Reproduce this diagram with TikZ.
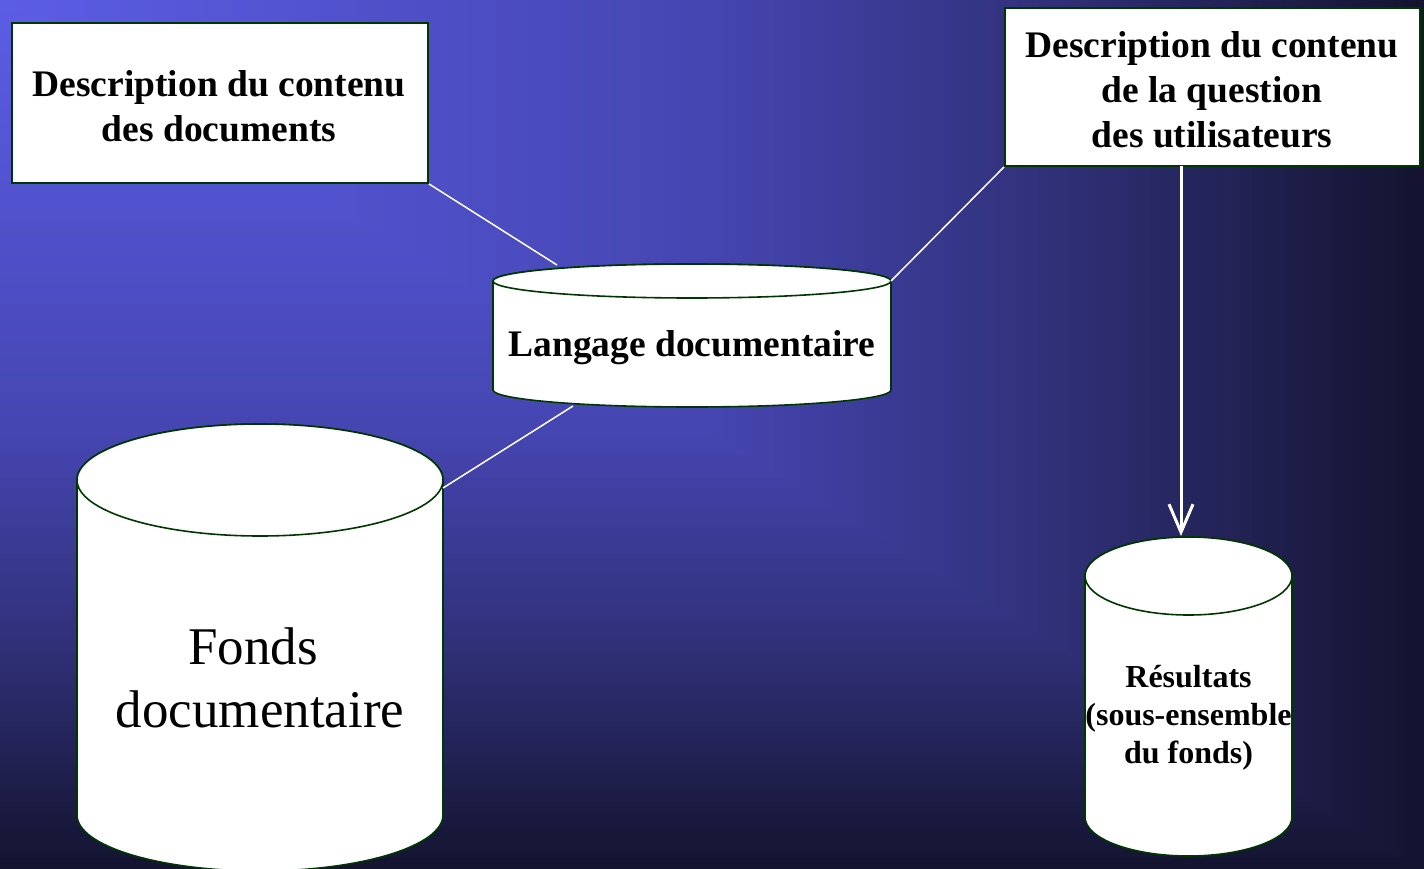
\documentclass[tikz,border=0pt]{standalone}
\usepackage{fontspec}
\setmainfont{Liberation Serif}
\usetikzlibrary{arrows.meta}
\definecolor{edge}{RGB}{0,55,0}
\tikzset{
  box/.style={draw=edge, line width=1.8pt, fill=white, align=center, inner sep=0pt,
              font=\bfseries\fontsize{37.5}{44.5}\selectfont},
  cyl/.style={draw=edge, line width=1.6pt, fill=white},
  link/.style={draw=white, line width=1.5pt},
  flow/.style={draw=white, line width=3pt, -{Straight Barb[length=28pt,width=24pt,line width=3pt]}},
  lbl/.style={align=center, inner sep=0pt}
}
\begin{document}
\begin{tikzpicture}[x=1pt,y=-1pt]
\useasboundingbox (0,0) rectangle (1424,869);
% background: rectangular gradient from the top-left corner
\foreach \k in {0,...,139}{
  \pgfmathsetmacro\s{1-\k/140}
  \pgfmathtruncatemacro\rr{\s<0.5 ? 92-44*\s : (\s<0.75 ? 70-88*(\s-0.5) : 48-112*(\s-0.75))}
  \pgfmathtruncatemacro\gg{\s<0.5 ? 94-48*\s : (\s<0.75 ? 70-88*(\s-0.5) : 48-112*(\s-0.75))}
  \pgfmathtruncatemacro\bb{\s<0.5 ? 230-104*\s : (\s<0.75 ? 178-232*(\s-0.5) : 120-288*(\s-0.75))}
  \definecolor{bgc}{RGB}{\rr,\gg,\bb}
  \fill[bgc] (0,0) rectangle (1424*\s+0.5,869*\s+0.5);
}
% boxes
\node[box, minimum width=416pt, minimum height=160pt] (b1) at (220,103) {};
\node[lbl, font=\bfseries\fontsize{37.5}{44.5}\selectfont] (b1t) at (219,106)
  {Description du contenu\\des documents};
\node[box, minimum width=415pt, minimum height=158pt] (b2) at (1212.5,87) {};
\node[lbl, font=\bfseries\fontsize{37.5}{45}\selectfont] (b2t) at (1212,90)
  {Description du contenu\\de la question\\des utilisateurs};
% cylinder: Langage documentaire
\path[cyl] (493,281) -- (493,390) arc[start angle=180,end angle=360,x radius=199pt,y radius=17pt]
  -- (891,281) arc[start angle=0,end angle=180,x radius=199pt,y radius=17pt] -- cycle;
\draw[cyl] (692,281) ellipse[x radius=199pt,y radius=17pt];
\node[lbl, font=\bfseries\fontsize{37.5}{44.5}\selectfont] (lang) at (692,348) {Langage documentaire};
% cylinder: Fonds documentaire
\path[cyl] (77,480) -- (77,815) arc[start angle=180,end angle=360,x radius=183pt,y radius=56pt]
  -- (443,480) arc[start angle=0,end angle=180,x radius=183pt,y radius=56pt] -- cycle;
\draw[cyl] (260,480) ellipse[x radius=183pt,y radius=56pt];
\node[lbl, font=\fontsize{53}{63}\selectfont] (fonds) at (260,678) {Fonds\hspace*{14pt}\\documentaire};
% cylinder: Resultats
\path[cyl] (1085,576) -- (1085,817) arc[start angle=180,end angle=360,x radius=103.5pt,y radius=39pt]
  -- (1292,576) arc[start angle=0,end angle=180,x radius=103.5pt,y radius=39pt] -- cycle;
\draw[cyl] (1188.5,576) ellipse[x radius=103.5pt,y radius=39pt];
\node[lbl, font=\bfseries\fontsize{32}{38}\selectfont] (res) at (1188.5,718)
  {Résultats\\(sous-ensemble\\du fonds)};
% connector end points
\coordinate (langtop) at (557,265);
\coordinate (langeast) at (891,281);
\coordinate (langbot) at (573,406);
\coordinate (fondsne) at (443,488);
\coordinate (qfoot) at (1181,166);
\coordinate (restop) at (1181,536);
% connectors
\draw[link] (b1.south east) -- (langtop);
\draw[link] (b2.south west) -- (langeast);
\draw[link] (fondsne) -- (langbot);
\draw[flow] (qfoot) -- (restop);
\end{tikzpicture}
\end{document}
